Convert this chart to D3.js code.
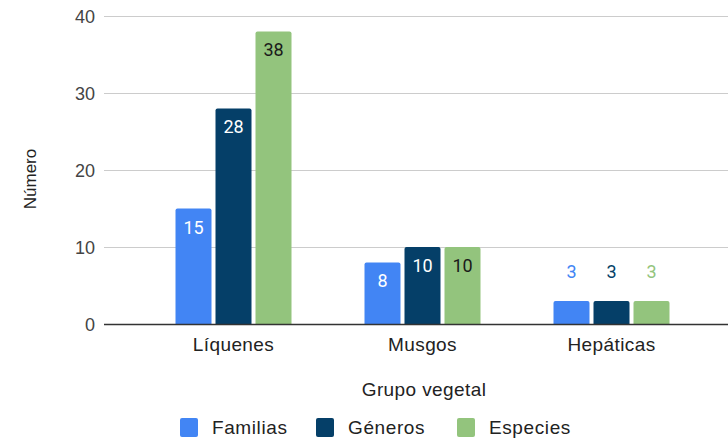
<!DOCTYPE html>
<html>
<head>
<meta charset="utf-8">
<script src="https://cdn.jsdelivr.net/npm/d3@7"></script>
<style>
  html, body { margin: 0; padding: 0; background: #fff; }
  svg { display: block; }
</style>
</head>
<body>
<svg id="chart" width="728" height="441"></svg>
<script>
// Group names and the three counted series
const categories = ["Líquenes", "Musgos", "Hepáticas"];
const seriesNames = ["Familias", "Géneros", "Especies"];
const familias = [15, 8, 3];
const generos = [28, 10, 3];
const especies = [38, 10, 3];
const yTicks = [0, 10, 20, 30, 40];

const colors = ["#4285f4", "#053f68", "#93c47d"];
const labelInside = ["#ffffff", "#ffffff", "#1a1a1a"];
const series = [familias, generos, especies];

const svg = d3.select("#chart");
const plot = { left: 104, right: 728, top: 16, bottom: 324 };
const axisFont = "'Liberation Sans', Arial, sans-serif";
const labelFont = "Roboto, 'Liberation Sans', sans-serif";

const y = d3.scaleLinear().domain([0, 40]).range([plot.bottom, plot.top]);
const x0 = d3.scaleBand().domain(categories).range([139, 706]).paddingInner(0).paddingOuter(0);
const x1 = d3.scaleBand().domain(seriesNames).range([0, 116]).paddingInner(0.1);
const groupOffset = (x0.bandwidth() - 116) / 2;

// horizontal gridlines
svg.append("g").selectAll("line")
  .data(yTicks.filter(t => t !== 0))
  .join("line")
  .attr("x1", plot.left).attr("x2", plot.right)
  .attr("y1", d => Math.round(y(d)) + 0.5).attr("y2", d => Math.round(y(d)) + 0.5)
  .attr("stroke", "#cccccc").attr("stroke-width", 1);

// y-axis tick labels
const yAxis = d3.axisLeft(y).tickValues(yTicks).tickSize(0).tickPadding(0);
const gy = svg.append("g").attr("transform", `translate(${plot.left - 9},0)`).call(yAxis);
gy.select(".domain").remove();
gy.selectAll("text")
  .attr("font-family", axisFont).attr("font-size", 18).attr("fill", "#444")
  .attr("dy", "0.35em");

// bars
const groups = svg.append("g").selectAll("g")
  .data(categories)
  .join("g")
  .attr("transform", c => `translate(${x0(c) + groupOffset},0)`);

const barData = (c, i) => seriesNames.map((s, k) => ({ cat: c, s, k, v: series[k][i] }));

groups.each(function(c, i) {
  const g = d3.select(this);
  const data = barData(c, i);
  g.selectAll("path.bar")
    .data(data)
    .join("path")
    .attr("class", "bar")
    .attr("fill", d => colors[d.k])
    .attr("d", d => {
      const bx = x1(d.s), bw = x1.bandwidth();
      const top = y(d.v), bot = y(0), r = 2;
      return `M${bx},${bot}V${top + r}Q${bx},${top} ${bx + r},${top}H${bx + bw - r}Q${bx + bw},${top} ${bx + bw},${top + r}V${bot}Z`;
    });

  g.selectAll("text.val")
    .data(data)
    .join("text")
    .attr("class", "val")
    .attr("x", d => x1(d.s) + x1.bandwidth() / 2)
    .attr("y", d => {
      const h = y(0) - y(d.v);
      return h > 30 ? y(d.v) + 25 : y(d.v) - 23;
    })
    .attr("text-anchor", "middle")
    .attr("font-family", labelFont)
    .attr("font-size", 18)
    .attr("fill", d => (y(0) - y(d.v) > 30) ? labelInside[d.k] : colors[d.k])
    .text(d => d.v);
});

// baseline
svg.append("line")
  .attr("x1", plot.left).attr("x2", plot.right)
  .attr("y1", y(0) + 0.5).attr("y2", y(0) + 0.5)
  .attr("stroke", "#333").attr("stroke-width", 1.5);

// category labels
svg.append("g").selectAll("text")
  .data(categories)
  .join("text")
  .attr("x", c => x0(c) + x0.bandwidth() / 2)
  .attr("y", 351)
  .attr("text-anchor", "middle")
  .attr("font-family", axisFont).attr("font-size", 19).attr("letter-spacing", 0.4).attr("fill", "#222")
  .text(c => c);

// axis titles
svg.append("text")
  .attr("x", 424).attr("y", 396)
  .attr("text-anchor", "middle")
  .attr("font-family", axisFont).attr("font-size", 19).attr("letter-spacing", 0.4).attr("fill", "#222")
  .text("Grupo vegetal");

svg.append("text")
  .attr("transform", "translate(36,179) rotate(-90)")
  .attr("text-anchor", "middle")
  .attr("font-family", axisFont).attr("font-size", 17).attr("fill", "#222")
  .text("Número");

// legend
const legendX = [180, 316, 457];
const legend = svg.append("g").selectAll("g")
  .data(seriesNames)
  .join("g")
  .attr("transform", (d, i) => `translate(${legendX[i]},418)`);
legend.append("rect")
  .attr("width", 18).attr("height", 19).attr("rx", 2)
  .attr("fill", (d, i) => colors[i]);
legend.append("text")
  .attr("x", 32).attr("y", 16)
  .attr("font-family", axisFont).attr("font-size", 19).attr("letter-spacing", 0.6).attr("fill", "#222")
  .text(d => d);
</script>
</body>
</html>
